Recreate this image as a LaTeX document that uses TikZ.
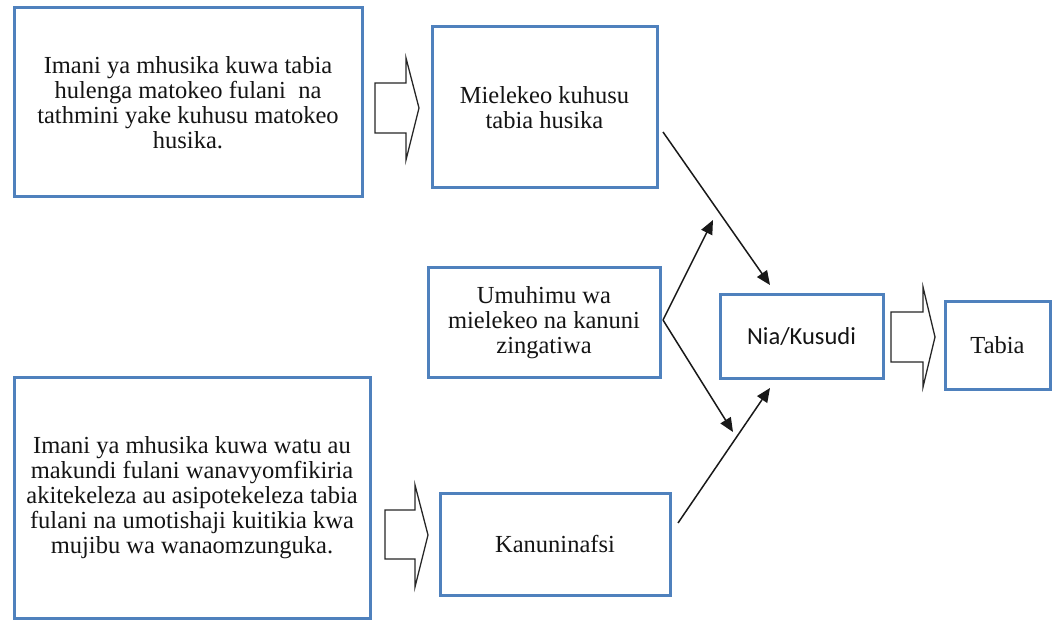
\documentclass[tikz,border=0pt]{standalone}
\usepackage{fontspec}
\setmainfont{Liberation Serif}
\newfontfamily\calib{Carlito}
\usetikzlibrary{arrows.meta}
\definecolor{boxblue}{RGB}{79,129,189}
\definecolor{txt}{RGB}{20,20,20}
\tikzset{
  box/.style={draw=boxblue, line width=3pt, fill=white, inner sep=0pt, align=center,
    text=txt, font=\rmfamily\fontsize{24.5pt}{25pt}\selectfont},
  blockarrow/.style={draw=black!85, line width=1.3pt, fill=white, line join=miter},
  conn/.style={draw=black!90, line width=1.5pt, -{Triangle[length=14pt,width=12pt]}}
}
\begin{document}
\begin{tikzpicture}[x=1pt,y=-1pt]
\useasboundingbox (0,0) rectangle (1052,620);
% boxes
\node[box, minimum width=348pt, minimum height=189pt] (b1) at (188,102.5)
  {Imani ya mhusika kuwa tabia\\hulenga matokeo fulani\ \ na\\tathmini yake kuhusu matokeo\\husika.};
\node[box, minimum width=225pt, minimum height=161pt] (b2) at (544.5,107.5)
  {Mielekeo kuhusu\\tabia husika};
\node[box, minimum width=232pt, minimum height=109pt] (b3) at (544,322.5)
  {Umuhimu wa\\mielekeo na kanuni\\zingatiwa};
\node[box, minimum width=356pt, minimum height=241pt] (b4) at (192,497.5)
  {Imani ya mhusika kuwa watu au\\makundi fulani wanavyomfikiria\\akitekeleza au asipotekeleza tabia\\fulani na umotishaji kuitikia kwa\\mujibu wa wanaomzunguka.};
\node[box, minimum width=230pt, minimum height=102pt] (b5) at (555,544)
  {Kanuninafsi};
\node[box, minimum width=163pt, minimum height=83pt, font=\calib\fontsize{24.5pt}{26pt}\selectfont] (nia) at (801.5,336.5)
  {Nia/Kusudi};
\node[box, minimum width=105pt, minimum height=87pt] (tabia) at (997.5,345.5)
  {Tabia};
% block arrows
\draw[blockarrow] (375,83) -- (406,83) -- (406,58) -- (419,108) -- (406,160) -- (406,133) -- (375,133) -- cycle;
\draw[blockarrow] (891,312) -- (923,312) -- (923,287) -- (935,337) -- (923,387) -- (923,362) -- (891,362) -- cycle;
\draw[blockarrow] (385,510) -- (415,510) -- (415,485) -- (428,535) -- (415,587) -- (415,559) -- (385,559) -- cycle;
% connector endpoints
\coordinate (s1) at (663,132);
\coordinate (t1) at (770,285);
\coordinate (s23) at (663,320);
\coordinate (t2) at (713,220);
\coordinate (t3) at (733,432);
\coordinate (s4) at (678,523);
\coordinate (t4) at (770,388);
\draw[conn] (s1) -- (t1);
\draw[conn] (s23) -- (t2);
\draw[conn] (s23) -- (t3);
\draw[conn] (s4) -- (t4);
\end{tikzpicture}
\end{document}
